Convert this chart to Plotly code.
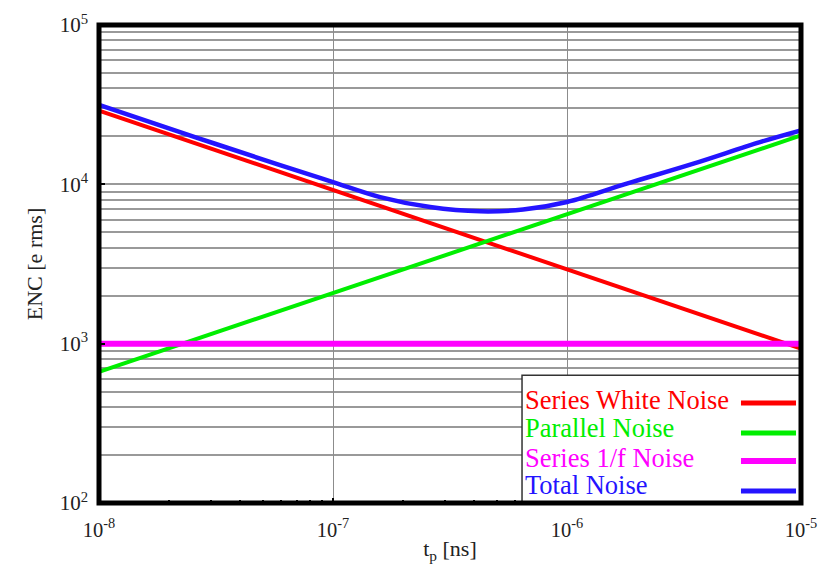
import plotly.graph_objects as go

# Shaping time axis (s) and equivalent noise charge (e rms)
tp_line = [1e-8, 1e-5]
series_white = [29000, 930]
parallel = [666, 20250]
series_1f = [1000, 1000]

tp_total = [1e-8, 2.57e-8, 5.94e-8, 1e-7, 1.59e-7, 2.6e-7, 4.25e-7,
            6.49e-7, 1e-6, 1.8e-6, 3.47e-6, 6.68e-6, 1e-5]
total = [31500, 19800, 13200, 10340, 8320, 7205, 6770,
         6940, 7745, 10100, 13490, 18410, 21810]

x_tickvals = [1e-8, 1e-7, 1e-6, 1e-5]
x_ticktext = ["10<sup>-8</sup>", "10<sup>-7</sup>", "10<sup>-6</sup>", "10<sup>-5</sup>"]
y_tickvals = [1e2, 1e3, 1e4, 1e5]
y_ticktext = ["10<sup>2</sup>", "10<sup>3</sup>", "10<sup>4</sup>", "10<sup>5</sup>"]

names = ["Series White Noise", "Parallel Noise", "Series 1/f Noise", "Total Noise"]
colors = ["#ff0000", "#00ee00", "#ff00ff", "#2414ff"]

SERIF = "Liberation Serif"

fig = go.Figure()
fig.add_trace(go.Scatter(x=tp_line, y=series_white, mode="lines",
                         line=dict(color=colors[0], width=4), showlegend=False))
fig.add_trace(go.Scatter(x=tp_line, y=parallel, mode="lines",
                         line=dict(color=colors[1], width=4), showlegend=False))
fig.add_trace(go.Scatter(x=tp_line, y=series_1f, mode="lines",
                         line=dict(color=colors[2], width=6), showlegend=False))
fig.add_trace(go.Scatter(x=tp_total, y=total, mode="lines",
                         line=dict(color=colors[3], width=4.5, shape="spline", smoothing=1),
                         showlegend=False))

fig.update_xaxes(
    type="log", range=[-8, -5], automargin=False,
    tickmode="array", tickvals=x_tickvals, ticktext=x_ticktext,
    showgrid=True, gridcolor="#8c8c8c", gridwidth=1,
    ticks="inside", ticklen=5, tickwidth=2, tickcolor="black",
    minor=dict(dtick="D1", ticks="inside", ticklen=3, tickwidth=2,
               tickcolor="black", showgrid=False),
    showline=False, zeroline=False,
    tickfont=dict(family=SERIF, size=20.5, color="#222"),
    ticklabelstandoff=12,
    title=dict(text="t<sub>p</sub> [ns]", font=dict(family=SERIF, size=22, color="#222"),
               standoff=4),
)
fig.update_yaxes(
    type="log", range=[2, 5], automargin=False,
    tickmode="array", tickvals=y_tickvals, ticktext=y_ticktext,
    showgrid=True, gridcolor="#999999", gridwidth=1.6,
    ticks="inside", ticklen=6, tickwidth=2, tickcolor="black",
    minor=dict(dtick="D1", showgrid=True, gridcolor="#999999", gridwidth=1.6, ticks=""),
    showline=False, zeroline=False,
    tickfont=dict(family=SERIF, size=21, color="#222"),
    ticklabelstandoff=10,
    title=dict(text="ENC [e rms]", font=dict(family=SERIF, size=22, color="#222"),
               standoff=10),
)

shapes = []
# legend box
shapes.append(dict(type="rect", xref="paper", yref="paper", x0=0.6026, x1=1.0,
                   y0=0.0, y1=0.2675, fillcolor="white",
                   line=dict(color="#333333", width=1.5), layer="above"))
# plot frame
shapes.append(dict(type="rect", xref="paper", yref="paper", x0=0, x1=1, y0=0, y1=1,
                   line=dict(color="black", width=5), layer="above"))

row_text_y = [0.215, 0.156, 0.095, 0.037]
row_line_y = [0.209, 0.1463, 0.0878, 0.0251]
widths = [5, 5, 6, 5]
annotations = []
for name, col, ty, ly, w in zip(names, colors, row_text_y, row_line_y, widths):
    annotations.append(dict(xref="paper", yref="paper", x=0.604, y=ty, xanchor="left",
                            yanchor="middle", text=name, showarrow=False,
                            font=dict(family=SERIF, size=26.5, color=col)))
    shapes.append(dict(type="line", xref="paper", yref="paper", x0=0.9145, x1=0.9929,
                       y0=ly, y1=ly, line=dict(color=col, width=w), layer="above"))

fig.update_layout(
    width=823, height=564,
    margin=dict(l=99, r=22, t=25, b=61),
    paper_bgcolor="white", plot_bgcolor="white",
    shapes=shapes, annotations=annotations,
    showlegend=False,
)

fig.write_html("out.html")
